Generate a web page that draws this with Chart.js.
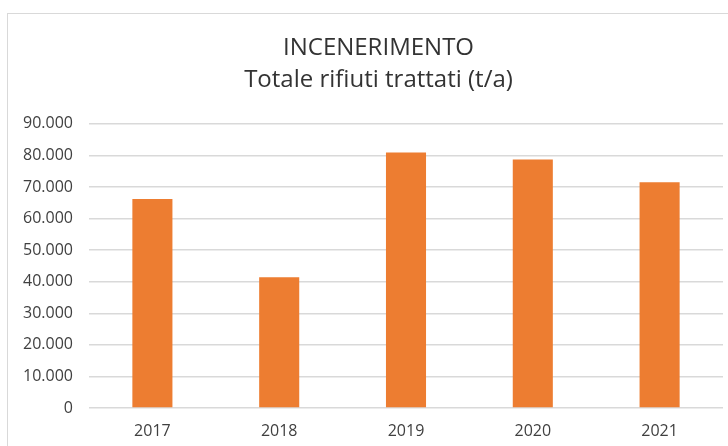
<!DOCTYPE html>
<html>
<head>
<meta charset="utf-8">
<script src="https://cdn.jsdelivr.net/npm/chart.js@4/dist/chart.umd.min.js"></script>
<style>
  html, body { margin: 0; padding: 0; background: #fff; overflow: hidden; }
  #frame {
    position: absolute; left: 7px; top: 13px;
    width: 741px; height: 440px;
    border: 1px solid #d9d9d9;
  }
  #chart { display: block; }
</style>
</head>
<body>
<div id="frame"><canvas id="chart" width="741" height="440"></canvas></div>
<script>
const anni = ['2017', '2018', '2019', '2020', '2021'];
const rifiuti = [66200, 41400, 80900, 78700, 71500];
const titolo = ['INCENERIMENTO', 'Totale rifiuti trattati (t/a)'];
const yMax = 90000;
const yStep = 10000;

// 90000 -> "90.000"
function migliaia(v) {
  return String(v).replace(/\B(?=(\d{3})+(?!\d))/g, '.');
}

const ctx = document.getElementById('chart').getContext('2d');
const myChart = new Chart(ctx, {
  type: 'bar',
  data: {
    labels: anni,
    datasets: [{
      label: 'Totale rifiuti trattati',
      data: rifiuti,
      backgroundColor: '#ED7D31',
      borderWidth: 0,
      barPercentage: 0.316,
      categoryPercentage: 1
    }]
  },
  options: {
    responsive: false,
    animation: false,
    layout: { padding: { top: 0, left: 0, right: 0, bottom: 13 } },
    plugins: {
      legend: { display: false },
      tooltip: { enabled: false },
      title: {
        display: true,
        text: titolo,
        color: '#333333',
        font: { family: 'Open Sans', size: 24, weight: 'normal', lineHeight: 1.35 },
        padding: { top: 18, bottom: 27 }
      }
    },
    scales: {
      x: {
        grid: { display: false },
        border: { display: false },
        ticks: {
          color: '#404040',
          font: { family: 'Open Sans', size: 16 },
          padding: 6
        },
        afterFit: s => { s.height = 33; }
      },
      y: {
        min: 0,
        max: yMax,
        grid: { color: '#d9d9d9', lineWidth: 1.5, drawTicks: false },
        border: { display: false },
        ticks: {
          stepSize: yStep,
          color: '#404040',
          font: { family: 'Open Sans', size: 16 },
          padding: 16,
          callback: v => migliaia(v)
        },
        afterFit: s => { s.width = 81; }
      },
      // empty right margin so the plot stops short of the frame edge
      margine: {
        position: 'right',
        grid: { display: false },
        border: { display: false },
        ticks: { display: false },
        afterFit: s => { s.width = 26; }
      }
    }
  }
});
</script>
</body>
</html>
